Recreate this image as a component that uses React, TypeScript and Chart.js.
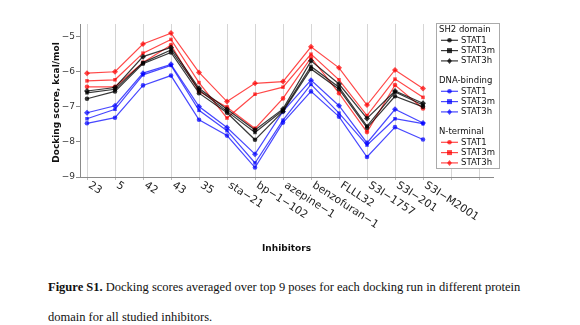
import React, { useEffect, useRef } from "react";
import { Chart, registerables } from "chart.js";

Chart.register(...registerables);

// ---- data ----
const categories = [
  "23", "5", "42", "43", "35", "sta\u221221", "bp\u22121\u2212102", "azepine\u22121",
  "benzofuran\u22121", "FLLL32", "S3I\u22121757", "S3I\u2212201", "S3I\u2212M2001", "", "",
];

const yTicks = [-9, -8, -7, -6, -5];

// SH2 domain
const sh2Stat1 = [-6.77, -6.56, -5.77, -5.45, -6.61, -7.17, -7.94, -7.13, -5.92, -6.5, -7.6, -6.7, -7.0];
const sh2Stat3m = [-6.6, -6.5, -5.74, -5.38, -6.52, -7.13, -7.73, -7.1, -5.85, -6.44, -7.55, -6.58, -6.95];
const sh2Stat3h = [-6.55, -6.45, -5.57, -5.31, -6.47, -7.07, -7.66, -7.06, -5.69, -6.35, -7.33, -6.55, -6.9];
// DNA-binding
const dnaStat1 = [-7.47, -7.31, -6.39, -6.11, -7.37, -7.82, -8.73, -7.45, -6.56, -7.28, -8.43, -7.58, -7.93];
const dnaStat3m = [-7.34, -7.07, -6.09, -5.82, -7.1, -7.68, -8.6, -7.38, -6.36, -7.18, -8.09, -7.34, -7.48];
const dnaStat3h = [-7.17, -6.97, -6.04, -5.79, -6.99, -7.59, -8.35, -7.13, -6.24, -6.97, -8.03, -7.07, -7.46];
// N-terminal
const ntStat1 = [-6.43, -6.43, -5.74, -5.24, -6.56, -7.01, -7.62, -6.76, -5.6, -6.61, -7.72, -6.38, -7.05];
const ntStat3m = [-6.26, -6.23, -5.47, -5.08, -6.31, -7.32, -6.64, -6.44, -5.5, -6.23, -7.25, -6.21, -6.73];
const ntStat3h = [-6.04, -6.0, -5.21, -4.9, -6.02, -6.85, -6.33, -6.28, -5.29, -5.89, -6.95, -5.95, -6.48];

const groups = [
  { title: "SH2 domain", color: "rgba(0,0,0,0.78)", series: [sh2Stat1, sh2Stat3m, sh2Stat3h] },
  { title: "DNA-binding", color: "rgba(0,0,255,0.72)", series: [dnaStat1, dnaStat3m, dnaStat3h] },
  { title: "N-terminal", color: "rgba(255,0,0,0.72)", series: [ntStat1, ntStat3m, ntStat3h] },
];
const seriesNames = ["STAT1", "STAT3m", "STAT3h"];
const pointStyles = ["circle", "rect", "rectRot"];
const pointRadii = [2.3, 2.5, 3];

const FONT = '"DejaVu Sans", sans-serif';
const X_FONT = 10.7;
const ANG = (33 * Math.PI) / 180;

const textPlugin = {
  id: "customText",
  afterDraw(chart: any) {
    const { ctx, chartArea, scales } = chart;
    const xs = scales.x;
    ctx.save();
    // x tick labels, rotated clockwise, starting at tick
    ctx.font = `${X_FONT}px ${FONT}`;
    ctx.fillStyle = "#222";
    ctx.textAlign = "left";
    ctx.textBaseline = "top";
    categories.forEach((c, i) => {
      if (!c) return;
      const x = xs.getPixelForValue(i);
      ctx.save();
      ctx.translate(x + X_FONT * Math.sin(ANG) * 0.9, chartArea.bottom + 3);
      ctx.rotate(ANG);
      ctx.fillText(c, 0, 0);
      ctx.restore();
    });
    // axis titles
    ctx.font = `bold 9px ${FONT}`;
    ctx.fillStyle = "#111";
    ctx.textAlign = "center";
    ctx.textBaseline = "middle";
    ctx.fillText("Inhibitors", (chartArea.left + chartArea.right) / 2, 249);
    ctx.save();
    ctx.translate(57, (chartArea.top + chartArea.bottom) / 2 + 2);
    ctx.rotate(-Math.PI / 2);
    ctx.fillText("Docking score, kcal/mol", 0, 0);
    ctx.restore();

    // legend
    const bx = 436.5, by = 23.5, bw = 63, bh = 145;
    ctx.fillStyle = "#fff";
    ctx.fillRect(bx, by, bw, bh);
    ctx.strokeStyle = "#aaa";
    ctx.lineWidth = 1;
    ctx.strokeRect(bx, by, bw, bh);
    ctx.font = `8.5px ${FONT}`;
    ctx.textAlign = "left";
    ctx.textBaseline = "middle";
    const headerY = [30, 81, 132];
    let di = 0;
    groups.forEach((g, gi) => {
      ctx.fillStyle = "#111";
      ctx.fillText(g.title, 439, headerY[gi]);
      for (let k = 0; k < 3; k++) {
        const ds = chart.data.datasets[di++];
        const y = headerY[gi] + 10.3 * (k + 1);
        ctx.strokeStyle = ds.borderColor;
        ctx.lineWidth = 1.2;
        ctx.beginPath();
        ctx.moveTo(441, y);
        ctx.lineTo(458, y);
        ctx.stroke();
        ctx.fillStyle = ds.borderColor;
        ctx.save();
        ctx.beginPath();
        const r = ds.pointRadius;
        if (ds.pointStyle === "circle") {
          ctx.arc(449.5, y, r, 0, Math.PI * 2);
        } else if (ds.pointStyle === "rect") {
          ctx.rect(449.5 - r, y - r, 2 * r, 2 * r);
        } else {
          ctx.moveTo(449.5, y - r);
          ctx.lineTo(449.5 + r * 0.8, y);
          ctx.lineTo(449.5, y + r);
          ctx.lineTo(449.5 - r * 0.8, y);
          ctx.closePath();
        }
        ctx.fill();
        ctx.restore();
        ctx.fillStyle = "#111";
        ctx.fillText(seriesNames[k], 461, y);
      }
    });
    ctx.restore();
  },
};

export default function App() {
  const ref = useRef<HTMLCanvasElement>(null);
  useEffect(() => {
    if (!ref.current) return;
    const datasets: any[] = [];
    groups.forEach((g) => {
      g.series.forEach((s, k) => {
        datasets.push({
          label: `${g.title} ${seriesNames[k]}`,
          data: s.map((v, i) => ({ x: i, y: v })),
          borderColor: g.color,
          backgroundColor: g.color,
          borderWidth: 1.2,
          pointStyle: pointStyles[k],
          pointRadius: pointRadii[k],
          pointBorderWidth: 0,
          tension: 0,
        });
      });
    });
    const chart = new Chart(ref.current, {
      type: "line",
      data: { datasets },
      options: {
        responsive: false,
        animation: false,
        events: [],
        layout: { padding: { left: 0, right: 87, top: 24, bottom: 79 } },
        plugins: { legend: { display: false }, tooltip: { enabled: false }, title: { display: false } },
        scales: {
          x: {
            type: "linear",
            min: -0.25,
            max: 14.5,
            afterBuildTicks: (scale: any) => {
              scale.ticks = categories.map((_, i) => ({ value: i }));
            },
            afterFit: (scale: any) => {
              scale.height = 4;
            },
            ticks: { display: false },
            grid: {
              display: true,
              color: "#d6d6d6",
              lineWidth: 1,
              drawTicks: true,
              tickLength: 3,
              tickColor: "#bbb",
            },
            border: { display: true, color: "#8a8a8a", width: 1 },
          },
          y: {
            type: "linear",
            min: -9,
            max: -4.64,
            afterBuildTicks: (scale: any) => {
              scale.ticks = yTicks.map((v) => ({ value: v }));
            },
            afterFit: (scale: any) => {
              scale.width = 80;
            },
            ticks: {
              padding: 1,
              color: "#333",
              font: { family: "DejaVu Sans", size: 9 },
              callback: (v: any) => String(v).replace("-", "\u2212"),
            },
            grid: {
              display: true,
              drawOnChartArea: false,
              drawTicks: true,
              tickLength: 4,
              tickColor: "#8a8a8a",
            },
            border: { display: true, color: "#8a8a8a", width: 1 },
          },
        },
      },
      plugins: [textPlugin],
    });
    return () => chart.destroy();
  }, []);

  const cap: React.CSSProperties = {
    position: "absolute",
    left: 48,
    fontFamily: '"Liberation Serif", "Times New Roman", serif',
    fontSize: 12.5,
    lineHeight: "16px",
    color: "#111",
    whiteSpace: "nowrap",
  };

  return (
    <div style={{ position: "absolute", left: 0, top: 0, width: 580, height: 325, background: "#fff" }}>
      <canvas ref={ref} width={580} height={260} style={{ position: "absolute", left: 0, top: 0 }} />
      <div style={{ ...cap, top: 279 }}>
        <b>Figure S1.</b> Docking scores averaged over top 9 poses for each docking run in different protein
      </div>
      <div style={{ ...cap, top: 309 }}>domain for all studied inhibitors.</div>
    </div>
  );
}
